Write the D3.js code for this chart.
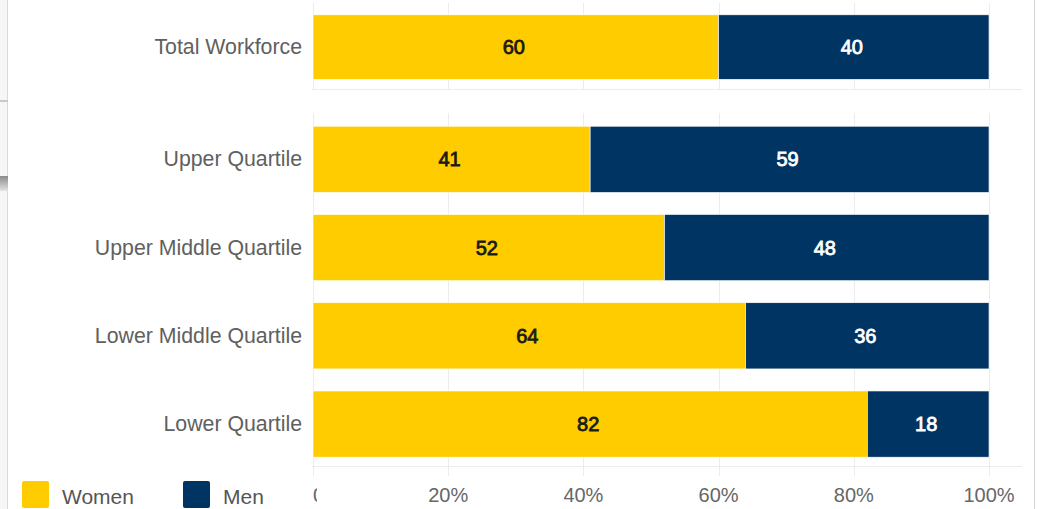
<!DOCTYPE html>
<html>
<head>
<meta charset="utf-8">
<script src="https://cdn.jsdelivr.net/npm/d3@7"></script>
<style>
  html, body { margin: 0; padding: 0; background: #fff; }
  svg { display: block; font-family: "Liberation Sans", Arial, sans-serif; }
</style>
</head>
<body>
<div id="chart"></div>
<script>
// data
var topCategories = ["Total Workforce"];
var topWomen = [60];
var topMen = [40];

var quartiles = ["Upper Quartile", "Upper Middle Quartile", "Lower Middle Quartile", "Lower Quartile"];
var quartWomen = [41, 52, 64, 82];
var quartMen = [59, 48, 36, 18];

var tickValues = [0, 20, 40, 60, 80, 100];
var tickLabels = ["0%", "20%", "40%", "60%", "80%", "100%"];

var seriesNames = ["Women", "Men"];
var colours = ["#ffcc00", "#003462"];
var labelColours = ["#1a1a1a", "#ffffff"];

var W = 1038, H = 509;

var svg = d3.select("#chart").append("svg")
    .attr("width", W)
    .attr("height", H);

// window edges from the screenshot
svg.append("rect").attr("x", 0).attr("y", 0).attr("width", 8).attr("height", H).style("fill", "#f6f6f6");
svg.append("line").attr("x1", 7.5).attr("x2", 7.5).attr("y1", 0).attr("y2", H)
    .style("stroke", "#dadada").style("stroke-width", "1px");
svg.append("line").attr("x1", 0).attr("x2", 8).attr("y1", 101).attr("y2", 101)
    .style("stroke", "#c8c8c8").style("stroke-width", "2px");
var grad = svg.append("defs").append("linearGradient").attr("id", "shade")
    .attr("x1", 0).attr("x2", 0).attr("y1", 0).attr("y2", 1);
grad.append("stop").attr("offset", "0%").attr("stop-color", "#8a8a8a");
grad.append("stop").attr("offset", "100%").attr("stop-color", "#e4e4e4");
svg.append("rect").attr("x", 0).attr("y", 176).attr("width", 8).attr("height", 15).style("fill", "url(#shade)");
svg.append("line").attr("x1", 1034.5).attr("x2", 1034.5).attr("y1", 0).attr("y2", H)
    .style("stroke", "#d4d4d4").style("stroke-width", "1px");

var x = d3.scaleLinear()
    .domain([0, 100])
    .range([313, 989]);

function drawPanel(cats, women, men, y0, y1, pOuter, align) {
    var y = d3.scaleBand()
        .domain(cats)
        .range([y0, y1])
        .paddingInner(0.25)
        .paddingOuter(pOuter)
        .align(align);

    var g = svg.append("g");

    // gridlines
    g.selectAll(".grid")
        .data(tickValues)
        .enter().append("line")
        .attr("x1", function(d){ return Math.round(x(d)) + 0.5; })
        .attr("x2", function(d){ return Math.round(x(d)) + 0.5; })
        .attr("y1", y0)
        .attr("y2", y1)
        .style("stroke", "#ececec")
        .style("stroke-width", "1px");

    g.append("line")
        .attr("x1", 312).attr("x2", 1022)
        .attr("y1", y1 + 0.5).attr("y2", y1 + 0.5)
        .style("stroke", "#ececec")
        .style("stroke-width", "1px");

    var rows = cats.map(function(c, i){
        return [
            {cat: c, s: 0, a: 0, b: women[i], v: women[i]},
            {cat: c, s: 1, a: women[i], b: women[i] + men[i], v: men[i]}
        ];
    });
    var segs = [].concat.apply([], rows);

    g.selectAll(".bar")
        .data(segs)
        .enter().append("rect")
        .attr("x", function(d){ return x(d.a); })
        .attr("width", function(d){ return x(d.b) - x(d.a); })
        .attr("y", function(d){ return y(d.cat); })
        .attr("height", y.bandwidth())
        .style("fill", function(d){ return colours[d.s]; })
        .style("stroke", "#ffffff")
        .style("stroke-width", "0.6px");

    g.selectAll(".val")
        .data(segs)
        .enter().append("text")
        .attr("x", function(d){ return (x(d.a) + x(d.b)) / 2 - 2; })
        .attr("y", function(d){ return y(d.cat) + y.bandwidth() / 2 + 7; })
        .attr("text-anchor", "middle")
        .style("font-size", "20px")
        .style("fill", function(d){ return labelColours[d.s]; })
        .style("stroke", function(d){ return labelColours[d.s]; })
        .style("stroke-width", "0.8px")
        .text(function(d){ return d.v; });

    g.selectAll(".cat")
        .data(cats)
        .enter().append("text")
        .attr("x", 302)
        .attr("y", function(d){ return y(d) + y.bandwidth() / 2 + 7; })
        .attr("text-anchor", "end")
        .style("font-size", "21.3px")
        .style("fill", "#606060")
        .text(function(d){ return d; });
}

drawPanel(topCategories, topWomen, topMen, 3, 89, 0.114, 0.55);
drawPanel(quartiles, quartWomen, quartMen, 113, 466, 0.125, 0.6);

// tick marks under the lower panel
svg.selectAll(".tickmark")
    .data(tickValues)
    .enter().append("line")
    .attr("x1", function(d){ return Math.round(x(d)) + 0.5; })
    .attr("x2", function(d){ return Math.round(x(d)) + 0.5; })
    .attr("y1", 466).attr("y2", 476)
    .style("stroke", "#ececec");

// x tick labels, first one is clipped in the original
svg.append("clipPath").attr("id", "firstclip")
    .append("rect").attr("x", 300).attr("y", 470).attr("width", 17).attr("height", 39);

svg.selectAll(".ticklab")
    .data(tickValues)
    .enter().append("text")
    .attr("x", function(d, i){ return i === 0 ? 313 : x(d); })
    .attr("y", 502)
    .attr("text-anchor", function(d, i){ return i === 0 ? "start" : "middle"; })
    .attr("clip-path", function(d, i){ return i === 0 ? "url(#firstclip)" : null; })
    .style("font-size", "20px")
    .style("fill", "#666666")
    .text(function(d, i){ return tickLabels[i]; });

// legend
var legend = svg.append("g");
var legendX = [22, 183];
seriesNames.forEach(function(name, i){
    legend.append("rect")
        .attr("x", legendX[i]).attr("y", 481)
        .attr("width", 27).attr("height", 27)
        .attr("rx", 2)
        .style("fill", colours[i]);
    legend.append("text")
        .attr("x", legendX[i] + 40).attr("y", 504)
        .style("font-size", "21px")
        .style("fill", "#555555")
        .text(name);
});
</script>
</body>
</html>
